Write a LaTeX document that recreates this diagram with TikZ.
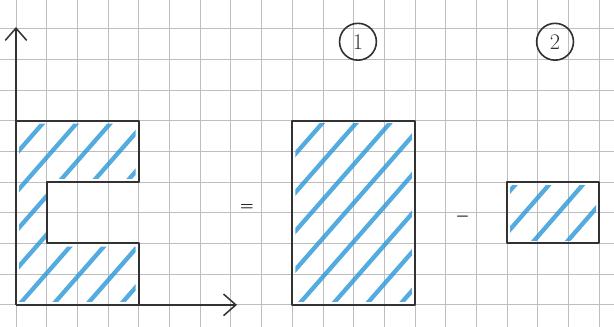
\documentclass[tikz,border=0pt]{standalone}
\usepackage{amsmath}
\usepackage{tikz}
\usetikzlibrary{arrows.meta}
\usepackage{xcolor}
\definecolor{pencil}{RGB}{50,50,50}
\definecolor{hatchblue}{RGB}{40,150,215}
\definecolor{paper}{RGB}{190,190,190}

\begin{document}
\begin{tikzpicture}[x=1cm, y=1cm,
  gridline/.style={draw=paper, line width=0.7pt},
  outline/.style={draw=pencil, line width=1.9pt, line join=round},
  axis/.style={draw=pencil, line width=1.6pt, -{Straight Barb[length=4mm, width=7mm, line width=1.4pt]}},
  hatch/.style={draw=hatchblue, line width=4pt, line cap=round, opacity=0.8},
  tag/.style={draw=pencil, circle, line width=1.5pt, minimum size=1.2cm, font=\huge, text=pencil}]
\useasboundingbox (-0.52,-0.72) rectangle (19.48,9.93);
\fill[white] (-0.52,-0.72) rectangle (19.48,9.93);
\draw[gridline] (-0.52,-0.72) grid (19.48,9.93);

\coordinate (O) at (0,0);
\coordinate (xend) at (7.2,0);
\coordinate (yend) at (0,9.05);

% left figure
\begin{scope}
\clip (0.1,0.1) -- (0.1,5.9) -- (3.9,5.9) -- (3.9,4.1) -- (1,4.1) -- (1,1.9) -- (3.9,1.9) -- (3.9,0.1) -- cycle;
\foreach \s in {-6.5,-5.4,...,4} \draw[hatch] (\s,0) -- ++(7,8);
\end{scope}
\draw[outline] (0,6) -- (4,6) -- (4,4) -- (1,4) -- (1,2) -- (4,2) -- (4,0);
\draw[axis] (O) -- (xend);
\draw[axis] (O) -- (yend);

\node (eq) at (7.52,3.17) {\Large $\boldsymbol{=}$};

% rectangle 1
\begin{scope}
\clip (9.1,0.1) rectangle (12.9,5.9);
\foreach \s in {2.6,3.7,...,13} \draw[hatch] (\s,0) -- ++(7,8);
\end{scope}
\draw[outline] (9,0) rectangle (13,6);
\node[tag] (one) at (11.14,8.57) {1};

\node (minus) at (14.55,2.88) {\Large $\boldsymbol{-}$};

% rectangle 2
\begin{scope}
\clip (16.1,2.1) rectangle (18.9,3.9);
\foreach \s in {14.6,15.7,...,20} \draw[hatch] (\s,2) -- ++(4,4.6);
\end{scope}
\draw[outline] (16,2) rectangle (19,4);
\node[tag] (two) at (17.56,8.57) {2};
\end{tikzpicture}
\end{document}
